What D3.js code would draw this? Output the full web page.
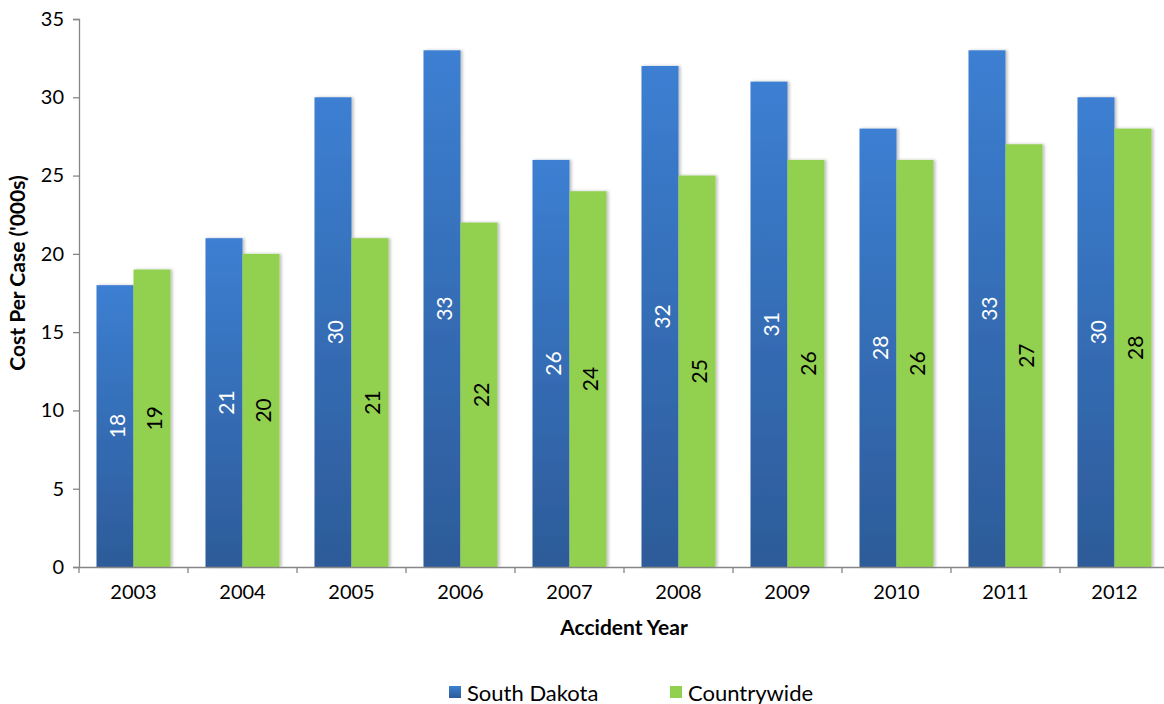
<!DOCTYPE html>
<html><head><meta charset="utf-8">
<script src="https://cdn.jsdelivr.net/npm/d3@7"></script>
<style>body{margin:0;background:#fff;} text{font-family:Lato,"Open Sans","Liberation Sans",sans-serif;}</style>
</head><body>
<svg id="c" width="1164" height="704"></svg>
<script>
const years = ["2003","2004","2005","2006","2007","2008","2009","2010","2011","2012"];
const southDakota = [18,21,30,33,26,32,31,28,33,30];
const countrywide = [19,20,21,22,24,25,26,26,27,28];
const seriesNames = ["South Dakota","Countrywide"];
const yTicks = [0,5,10,15,20,25,30,35];

const svg = d3.select("#c");
const pLeft = 79, pRight = 1169, pTop = 19, pBottom = 567;
const x = d3.scaleBand().domain(years).range([pLeft,pRight]).paddingInner(0).paddingOuter(0);
const inner = d3.scaleBand().domain(seriesNames).range([17.5, x.bandwidth()-17.5]);
const y = d3.scaleLinear().domain([0,35]).range([pBottom,pTop]);

const defs = svg.append("defs");
const g1 = defs.append("linearGradient").attr("id","blueGrad").attr("x1",0).attr("y1",0).attr("x2",0).attr("y2",1);
g1.append("stop").attr("offset","0%").attr("stop-color","#3c7fd2");
g1.append("stop").attr("offset","100%").attr("stop-color","#2d5b99");
const f = defs.append("filter").attr("id","sh").attr("x","-20%").attr("y","-5%").attr("width","140%").attr("height","110%");
f.append("feDropShadow").attr("dx",2).attr("dy",0).attr("stdDeviation",1.5).attr("flood-color","#000").attr("flood-opacity",0.25);

const yAxis = svg.append("g").attr("transform",`translate(${pLeft},0)`)
  .call(d3.axisLeft(y).tickValues(yTicks).tickSize(6).tickPadding(9));
yAxis.select(".domain").attr("stroke","#868686").attr("stroke-width",1.3);
yAxis.selectAll(".tick line").attr("stroke","#868686").attr("stroke-width",1.3);
yAxis.selectAll(".tick text").attr("font-size",20).attr("fill","#000");

const data = years.map((yr,i)=>({yr, vals:[southDakota[i],countrywide[i]]}));
const groups = svg.append("g").selectAll("g").data(data).join("g")
  .attr("transform",d=>`translate(${x(d.yr)},0)`);
groups.selectAll("rect").data(d=>d.vals.map((v,j)=>({v,s:seriesNames[j],j}))).join("rect")
  .attr("x",d=>inner(d.s)).attr("width",inner.bandwidth())
  .attr("y",d=>y(d.v)).attr("height",d=>y(0)-y(d.v))
  .attr("fill",d=>d.j===0?"url(#blueGrad)":"#92d050")
  .attr("filter","url(#sh)");
groups.selectAll("text.lbl").data(d=>d.vals.map((v,j)=>({v,s:seriesNames[j],j}))).join("text")
  .attr("class","lbl")
  .attr("transform",d=>`translate(${inner(d.s)+inner.bandwidth()/2+1},${(y(d.v)+y(0))/2}) rotate(-90)`)
  .attr("text-anchor","middle").attr("dominant-baseline","central")
  .attr("font-size",21).attr("fill",d=>d.j===0?"#fff":"#000").text(d=>d.v);

const xAxis = svg.append("g").attr("transform",`translate(0,${pBottom})`)
  .call(d3.axisBottom(x).tickSize(0).tickPadding(18));
xAxis.select(".domain").attr("stroke","#868686").attr("stroke-width",1.3);
xAxis.selectAll(".tick text").attr("font-size",20).attr("fill","#000");
svg.append("g").selectAll("line").data(d3.range(years.length+1)).join("line")
  .attr("x1",i=>pLeft+i*x.step()).attr("x2",i=>pLeft+i*x.step())
  .attr("y1",pBottom).attr("y2",pBottom+6).attr("stroke","#868686").attr("stroke-width",1.3);

svg.append("text").attr("x",(pLeft+pRight)/2).attr("y",635).attr("text-anchor","middle")
  .attr("font-size",21).attr("font-weight","bold").text("Accident Year");
svg.append("text").attr("transform",`translate(25,273) rotate(-90)`).attr("text-anchor","middle")
  .attr("font-size",21).attr("font-weight","bold").text("Cost Per Case ('000s)");

const leg = [{n:seriesNames[0],x:449,fill:"url(#blueGrad)"},{n:seriesNames[1],x:670,fill:"#92d050"}];
const lg = svg.append("g").selectAll("g").data(leg).join("g").attr("transform",d=>`translate(${d.x},686)`);
lg.append("rect").attr("width",12).attr("height",12).attr("fill",d=>d.fill);
lg.append("text").attr("x",18).attr("y",6).attr("dominant-baseline","central").attr("font-size",22).text(d=>d.n);
</script>
</body></html>
